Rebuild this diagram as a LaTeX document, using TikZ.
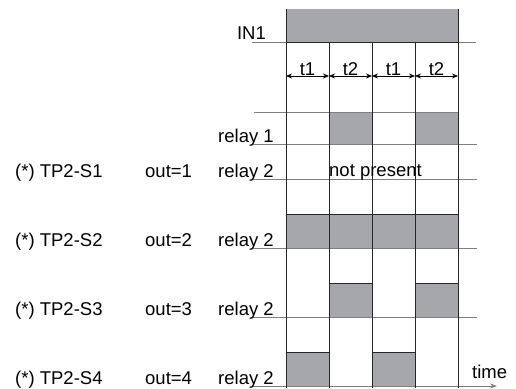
\documentclass[tikz,border=0pt]{standalone}
\usepackage{fontspec}
\setmainfont{Liberation Sans}
\usetikzlibrary{arrows.meta}
\definecolor{gris}{RGB}{166,167,171}
\begin{document}
\begin{tikzpicture}[x=1pt,y=-1pt,
  font=\fontsize{18.5}{21}\selectfont,
  linea/.style={draw=black!50, line width=0.9pt},
  vertical/.style={draw=black!85, line width=0.9pt},
  pulso/.style={fill=gris, draw=black!85, line width=0.9pt},
  punta/.style={-{Stealth[length=7pt,width=5pt]}},
  texto/.style={anchor=base west, inner sep=0pt}]
  \useasboundingbox (0,0) rectangle (516,388);

  % Dibuja la entrada IN1
  \fill[gris] (286,9) rectangle (458,42);

  % Dibuja los pulsos de los relés
  \draw[pulso] (329,112) rectangle (372,144);
  \draw[pulso] (415,112) rectangle (458,144);
  \draw[pulso] (286,214) rectangle (458,248);
  \draw[pulso] (329,283) rectangle (372,317);
  \draw[pulso] (415,283) rectangle (458,317);
  \draw[pulso] (286,352) rectangle (329,386);
  \draw[pulso] (372,352) rectangle (415,386);
  \foreach \x in {329,372,415}
    \draw[vertical] (\x,214) -- (\x,248);

  % Dibuja las líneas de base
  \draw[linea] (252,42) -- (476,42);
  \draw[linea] (254,112) -- (458,112);
  \foreach \y in {144,179,248,317}
    \draw[linea] (253,\y) -- (477,\y);
  \draw[linea,punta] (253,386) -- (497,386);
  \draw[vertical] (286,42) -- (458,42);

  % Dibuja las líneas verticales
  \foreach \x in {286,458}
    \draw[vertical] (\x,9) -- (\x,388);
  \foreach \x in {329,372,415}
    \draw[vertical] (\x,42) -- (\x,388);

  % Dibuja los tiempos t1 y t2
  \foreach \a/\b/\t in {286/329/t1,329/372/t2,372/415/t1,415/458/t2}
    \draw[{Stealth[length=6pt,width=5pt]}-{Stealth[length=6pt,width=5pt]}, line width=0.7pt]
      (\a,76) -- node[above, inner sep=0.5pt] {\t} (\b,76);

  % Etiqueta las señales
  \node[anchor=base east, inner sep=0pt] (in1) at (266,39) {IN1};
  \node[texto] (r1) at (218,142) {relay 1};
  \node[texto] (r2a) at (218,177) {relay 2};
  \node[texto] (r2b) at (218,246) {relay 2};
  \node[texto] (r2c) at (218,315) {relay 2};
  \node[texto] (r2d) at (218,384) {relay 2};
  \node[texto] (np) at (329,176) {not present};
  \node[texto] (time) at (472,378) {time};

  % Etiqueta las configuraciones
  \node[texto] (s1) at (15,177) {(*) TP2-S1};
  \node[texto] (s2) at (15,246) {(*) TP2-S2};
  \node[texto] (s3) at (15,315) {(*) TP2-S3};
  \node[texto] (s4) at (15,384) {(*) TP2-S4};
  \node[texto] (o1) at (145,177) {out=1};
  \node[texto] (o2) at (145,246) {out=2};
  \node[texto] (o3) at (145,315) {out=3};
  \node[texto] (o4) at (145,384) {out=4};
\end{tikzpicture}
\end{document}
